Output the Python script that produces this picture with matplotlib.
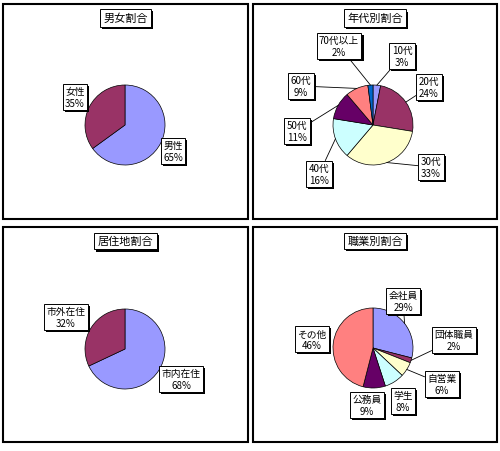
import matplotlib
matplotlib.use("Agg")
import matplotlib.pyplot as plt
import matplotlib.patheffects as pe
from matplotlib.patches import Rectangle
import numpy as np

plt.rcParams['font.family'] = ['Noto Sans CJK JP', 'DejaVu Sans']

W, H = 500, 452

# chart data
gender_labels = ["男性", "女性"]
gender_values = [65, 35]
age_labels = ["10代", "20代", "30代", "40代", "50代", "60代", "70代以上"]
age_values = [3, 24, 33, 16, 11, 9, 2]
area_labels = ["市内在住", "市外在住"]
area_values = [68, 32]
job_labels = ["会社員", "団体職員", "自営業", "学生", "公務員", "その他"]
job_values = [29, 2, 6, 8, 9, 46]

# excel default pie colours
colors = ["#9999FF", "#993366", "#FFFFCC", "#CCFFFF", "#660066", "#FF8080", "#0066CC"]

# layout in pixels (y measured from the top)
panels = [
    dict(title="男女割合", box=(3, 5, 248, 220), center=(125, 126),
         labels=gender_labels, values=gender_values,
         pos=[(173, 152), (75, 98)], leaders=[False, False]),
    dict(title="年代別割合", box=(253, 5, 497, 220), center=(373, 126),
         labels=age_labels, values=age_values,
         pos=[(402, 57), (429, 88), (431, 168), (319, 175), (297, 132), (301, 87), (339, 47)],
         leaders=[True] * 7),
    dict(title="居住地割合", box=(3, 228, 248, 443), center=(125, 350),
         labels=area_labels, values=area_values,
         pos=[(181, 380), (66, 318)], leaders=[False, False]),
    dict(title="職業別割合", box=(253, 228, 497, 443), center=(373, 349),
         labels=job_labels, values=job_values,
         pos=[(403, 302), (454, 341), (442, 385), (403, 402), (367, 406), (312, 340)],
         leaders=[True, True, True, False, False, False]),
]
R = 40

fig = plt.figure(figsize=(W / 100, H / 100), dpi=100)
ax = fig.add_axes([0, 0, 1, 1])

shadow = [pe.withSimplePatchShadow(offset=(1.5, -1.5), shadow_rgbFace="black", alpha=1.0)]

for p in panels:
    x0, y0, x1, y1 = p["box"]
    ax.add_patch(Rectangle((x0, H - y1), x1 - x0, y1 - y0, fill=False,
                           edgecolor="black", linewidth=1.5))
    cx, cy = p["center"][0], H - p["center"][1]
    vals = np.array(p["values"], dtype=float)
    ax.pie(vals, colors=colors[:len(vals)], startangle=90, counterclock=False,
           center=(cx, cy), radius=R,
           wedgeprops=dict(edgecolor="black", linewidth=0.5))

    t = ax.text((x0 + x1) / 2, H - (y0 + 14), p["title"], ha="center", va="center",
                fontsize=8, style="italic",
                bbox=dict(boxstyle="square,pad=0.3", fc="white", ec="black", lw=0.7))
    t.get_bbox_patch().set_path_effects(shadow)

    frac = vals / vals.sum()
    before = np.concatenate([[0], np.cumsum(frac)[:-1]])
    for lab, v, f, b, (lx, ly), lead in zip(p["labels"], p["values"], frac, before,
                                            p["pos"], p["leaders"]):
        theta = np.deg2rad(90 - 360 * (b + f / 2))
        xy = (cx + R * np.cos(theta), cy + R * np.sin(theta))
        arrow = dict(arrowstyle="-", lw=0.6, color="black", shrinkA=0, shrinkB=0) if lead else None
        a = ax.annotate(f"{lab}\n{v}%", xy=xy, xytext=(lx, H - ly),
                        ha="center", va="center", fontsize=7, linespacing=1.15,
                        bbox=dict(boxstyle="square,pad=0.25", fc="white", ec="black", lw=0.7),
                        arrowprops=arrow)
        a.get_bbox_patch().set_path_effects(shadow)

ax.set_xlim(0, W)
ax.set_ylim(0, H)
ax.set_aspect("auto")
ax.axis("off")

fig.savefig("out.png", dpi=100, facecolor="white")
